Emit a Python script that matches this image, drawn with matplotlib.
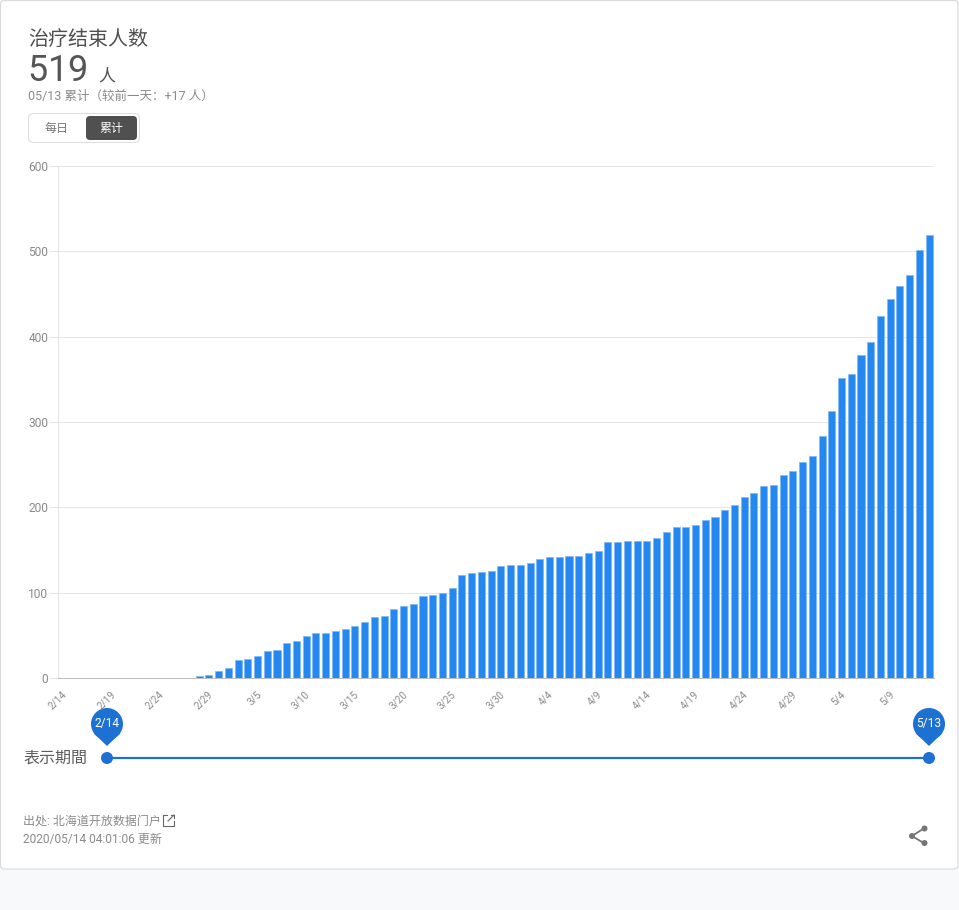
import matplotlib
matplotlib.use("Agg")
import matplotlib.pyplot as plt
from matplotlib.patches import FancyBboxPatch, Circle, Polygon
from matplotlib.transforms import ScaledTranslation

plt.rcParams['font.family'] = ['Roboto', 'Noto Sans CJK SC', 'DejaVu Sans']

# cumulative count per day, 2/14 .. 5/13
valores = [0, 0, 0, 0, 0, 0, 0, 0, 0, 0, 0, 0, 0, 0, 2, 3, 8, 12, 21, 22,
           26, 32, 33, 41, 43, 49, 53, 53, 55, 58, 61, 66, 72, 73, 81, 84, 87, 96, 97, 100,
           105, 121, 123, 124, 125, 131, 132, 133, 135, 139, 142, 142, 143, 143, 146, 149, 159, 159, 161, 161,
           161, 164, 171, 177, 177, 179, 185, 189, 197, 203, 212, 217, 225, 226, 238, 243, 253, 260, 284, 313,
           351, 356, 378, 394, 424, 444, 459, 472, 502, 519]
tick_labels = ['2/14', '2/19', '2/24', '2/29', '3/5', '3/10', '3/15', '3/20', '3/25', '3/30',
               '4/4', '4/9', '4/14', '4/19', '4/24', '4/29', '5/4', '5/9']
y_ticks = [0, 100, 200, 300, 400, 500, 600]

W, H = 959, 910
AZUL = '#2488f0'
AZUL_ESC = '#1c71d2'
CINZA = '#505050'
CINZA2 = '#8a8a8a'


def px(v):
    # pixels to points at dpi 100
    return v * 0.72


fig = plt.figure(figsize=(W / 100, H / 100), dpi=100, facecolor='#f8f9fb')

# pixel overlay for the card, header and slider
bg = fig.add_axes([0, 0, 1, 1], zorder=0)
bg.set_xlim(0, W)
bg.set_ylim(H, 0)
bg.axis('off')

bg.add_patch(FancyBboxPatch((0.5, 0.5), 957.5, 868.5, boxstyle='round,pad=0,rounding_size=4',
                            fc='white', ec='#d9d9d9', lw=0.8))

bg.text(28, 39, '治疗结束人数', fontsize=px(20), color=CINZA, va='center')
# digits spaced by hand, the original has wide tracking
for dx, dig in zip([27, 48, 67], '519'):
    bg.text(dx, 71, dig, fontsize=px(36), color='#555555', va='center')
bg.text(98, 75.5, '人', fontsize=px(17), color=CINZA, va='center')
bg.text(28, 96, '05/13 累计（较前一天：+17 人）', fontsize=px(12.5), color=CINZA2, va='center')

# toggle daily / cumulative
bg.add_patch(FancyBboxPatch((28.5, 113.5), 111, 29, boxstyle='round,pad=0,rounding_size=5',
                            fc='white', ec='#dddddd', lw=0.72))
bg.add_patch(FancyBboxPatch((86, 116), 51, 24, boxstyle='round,pad=0,rounding_size=4',
                            fc=CINZA, ec='none'))
bg.text(57, 128.5, '每日', fontsize=px(12), color='#777777', ha='center', va='center')
bg.text(111.5, 128.5, '累计', fontsize=px(12), color='white', ha='center', va='center')

# slider
bg.text(23, 758, '表示期間', fontsize=px(16), color='#5c5c5c', va='center')
bg.plot([107, 929], [758, 758], color=AZUL_ESC, lw=px(2.2), solid_capstyle='butt')
for cx, lab in [(107, '2/14'), (929, '5/13')]:
    bg.add_patch(Circle((cx, 758), 6, fc=AZUL_ESC, ec='none'))
    bg.add_patch(Circle((cx, 724), 16, fc=AZUL_ESC, ec='none'))
    bg.add_patch(Polygon([(cx - 13.5, 733), (cx + 13.5, 733), (cx, 746)], fc=AZUL_ESC, ec='none'))
    bg.text(cx, 723, lab, fontsize=px(12), color='white', ha='center', va='center')

# footer
bg.text(23, 821, '出处: 北海道开放数据门户', fontsize=px(12), color=CINZA2, va='center')
bg.text(23, 839, '2020/05/14 04:01:06 更新', fontsize=px(12), color=CINZA2, va='center')
bg.plot([167, 163, 163, 174, 174], [815, 815, 826, 826, 821], color='#666666', lw=0.8)
bg.plot([168, 174], [821, 815], color='#666666', lw=0.8)
bg.plot([171, 174, 174], [815, 815, 818], color='#666666', lw=0.8)

# share icon
bg.plot([924.5, 912, 924.5], [828, 836, 843.5], color='#757575', lw=1.3)
for sx, sy in [(924.5, 828.5), (912, 836), (924.5, 843)]:
    bg.add_patch(Circle((sx, sy), 3, fc='#757575', ec='none'))

# bar chart
ax = fig.add_axes([58 / W, 1 - 678 / H, 876 / W, 512 / H], zorder=1)
ax.patch.set_alpha(0)
ax.bar(range(len(valores)), valores, width=0.72, color=AZUL, edgecolor='#7db8f6', linewidth=0.5, zorder=3)
ax.set_xlim(-0.5, len(valores) - 0.5)
ax.set_ylim(0, 600)
ax.set_yticks(y_ticks)
ax.set_xticks(range(0, len(valores), 5))
ax.set_xticklabels(tick_labels, rotation=45, ha='right', rotation_mode='anchor',
                   fontsize=px(10), color=CINZA2)
ax.tick_params(axis='x', length=0, pad=8)
ax.tick_params(axis='y', length=6.5, width=0.72, color='#e4e4e4', labelsize=px(12), labelcolor=CINZA2, pad=0.5)
# tick_params resets the label transform, so the offset goes after it
desloca = ScaledTranslation(-1.5 / 100, 0, fig.dpi_scale_trans)
for lab in ax.get_xticklabels():
    lab.set_transform(lab.get_transform() + desloca)
ax.grid(axis='y', color='#e6e6e6', lw=0.72, zorder=0)
for s in ['top', 'right']:
    ax.spines[s].set_visible(False)
ax.spines['left'].set_color('#e4e4e4')
ax.spines['left'].set_linewidth(0.72)
ax.spines['bottom'].set_color('#bdbdbd')
ax.spines['bottom'].set_linewidth(0.72)
ax.spines['bottom'].set_zorder(4)

fig.savefig('out.png', dpi=100, facecolor=fig.get_facecolor())
